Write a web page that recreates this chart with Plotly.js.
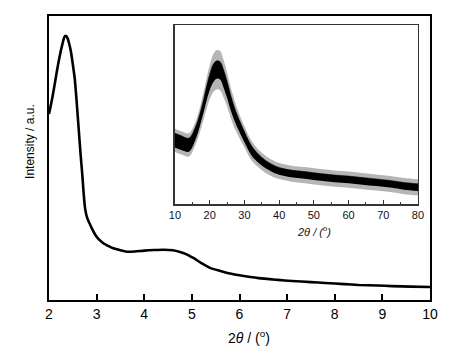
<!DOCTYPE html>
<html><head><meta charset="utf-8">
<script src="https://cdn.plot.ly/plotly-3.0.1.min.js"></script>
<style>body{margin:0;background:#fff}#c{width:455px;height:353px}</style>
</head><body><div id="c"></div>
<script>
// Main XRD pattern (low angle)
const mainX = [2.00,2.05,2.10,2.16,2.22,2.28,2.32,2.35,2.38,2.42,2.46,2.50,2.54,2.58,2.62,2.66,2.70,2.73,2.76,2.80,2.85,2.90,2.95,3.00,3.07,3.14,3.25,3.35,3.50,3.63,3.80,4.00,4.20,4.40,4.60,4.75,4.90,5.03,5.20,5.38,5.60,5.80,6.00,6.40,6.80,7.10,7.50,7.80,8.20,8.50,8.90,9.20,9.60,10.00];
const mainY = [65.5,69.5,74,80,85.5,90,92.5,93,92.5,90.5,87.5,83,78,70,61,52,44,37,32,29,27,25.2,23.6,22.3,21,20,19,18.2,17.5,17.0,17.1,17.4,17.6,17.7,17.5,16.9,16,14.8,13,11.3,10.2,9.3,8.7,7.7,7.1,6.7,6.3,6.0,5.6,5.3,5.1,4.9,4.7,4.6];

// Inset: wide-angle pattern (noisy band: centre and noise amplitudes)
const insetX = [10,12,14,16,18,19,20,21,22,23,24,25,26,27,28,30,32,34,36,38,40,44,48,52,56,60,64,68,72,76,80];
const insetC = [35.5,34,33,40,53,61,68,73,75,74.5,70,64,57,51,46,37.5,30,25.5,22.3,20,18.4,16.8,16,15,14.2,13.6,12.8,12,11.2,10,9.3];
const coreW  = [4,4,3.8,3.6,3.6,4,4.5,5,5,5,5,4.6,4.2,3.8,3.4,3,2.7,2.4,2.2,2.1,2,2,2,2,2,2,2,2,2,2,2];
const spikeW = [6.5,6.5,6.5,6.5,7.5,8.5,9.5,10.5,11,11,10.5,9.5,8.5,8,7,6,5.5,5,4.8,4.6,4.5,4.5,4.5,4.5,4.5,4.5,4.5,4.5,4.5,4.5,4.5];

const add = (a,b,s)=>a.map((v,i)=>v+s*b[i]);

const traces = [
  {x: mainX, y: mainY, xaxis:'x', yaxis:'y', mode:'lines', line:{color:'#000', width:2.6, shape:'spline', smoothing:0.6}, hoverinfo:'skip'},
  {x: insetX, y: add(insetC,spikeW,-1), xaxis:'x2', yaxis:'y2', mode:'lines', line:{width:0, shape:'spline'}, hoverinfo:'skip'},
  {x: insetX, y: add(insetC,spikeW,1), xaxis:'x2', yaxis:'y2', mode:'lines', fill:'tonexty', fillcolor:'rgba(70,70,70,0.4)', line:{width:0, shape:'spline'}, hoverinfo:'skip'},
  {x: insetX, y: add(insetC,coreW,-1), xaxis:'x2', yaxis:'y2', mode:'lines', line:{width:0, shape:'spline'}, hoverinfo:'skip'},
  {x: insetX, y: add(insetC,coreW,1), xaxis:'x2', yaxis:'y2', mode:'lines', fill:'tonexty', fillcolor:'#000', line:{color:'#000', width:0.5, shape:'spline'}, hoverinfo:'skip'}
];

const font = {family:'"Liberation Sans", Arial, sans-serif', color:'#000'};
const layout = {
  width:455, height:353,
  margin:{l:49, r:25, t:16, b:53},
  paper_bgcolor:'#fff', plot_bgcolor:'#fff',
  showlegend:false,
  font: font,
  xaxis:{domain:[0,1], range:[2,10], dtick:1, tick0:2, ticks:'inside', ticklen:6, tickwidth:2, tickcolor:'#000',
         showline:true, mirror:true, linewidth:2, linecolor:'#000', showgrid:false, zeroline:false,
         tickfont:{size:14, family:font.family, color:'#000'}},
  yaxis:{domain:[0,1], range:[0,100], showticklabels:false, ticks:'', showline:true, mirror:true,
         linewidth:2, linecolor:'#000', showgrid:false, zeroline:false},
  xaxis2:{domain:[0.3307,0.9685], anchor:'y2', range:[10,80], dtick:10, ticks:'inside', ticklen:4, tickwidth:1, tickcolor:'#333',
          minor:{dtick:5, ticks:'inside', ticklen:2, tickwidth:1, tickcolor:'#333'},
          showline:true, mirror:true, linewidth:1.5, linecolor:'#333', showgrid:false, zeroline:false,
          tickfont:{size:11, family:font.family, color:'#111'}},
  yaxis2:{domain:[0.338,0.9683], anchor:'x2', range:[0,100], showticklabels:false, ticks:'', showline:true, mirror:true,
          linewidth:1.5, linecolor:'#333', showgrid:false, zeroline:false},
  annotations:[
    {text:'2<i>θ</i> / (<sup>o</sup>)', xref:'paper', yref:'paper', x:0.525, y:-0.130, xanchor:'center', yanchor:'middle', showarrow:false, font:{size:14, family:font.family, color:'#000'}},
    {text:'Intensity / a.u.', xref:'paper', yref:'paper', x:-0.05, y:0.56, xanchor:'center', yanchor:'middle', textangle:-90, showarrow:false, font:{size:12, family:font.family, color:'#000'}},
    {text:'<i>2θ / (<sup>o</sup>)</i>', xref:'paper', yref:'paper', x:0.6955, y:0.243, xanchor:'center', yanchor:'middle', showarrow:false, font:{size:11, family:font.family, color:'#111'}}
  ]
};
Plotly.newPlot('c', traces, layout, {staticPlot:true, displayModeBar:false});
</script></body></html>
